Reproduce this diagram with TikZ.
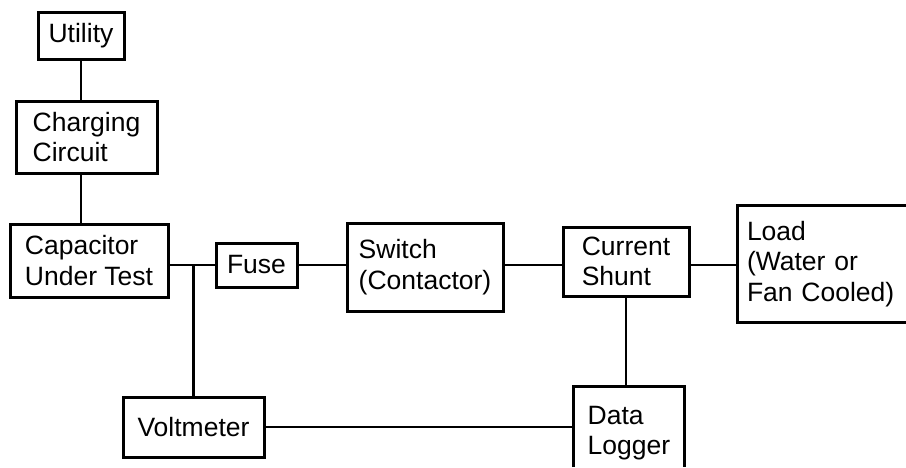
\documentclass[tikz,border=0pt]{standalone}
\usepackage{fontspec}
\setmainfont{Liberation Sans}
\usepackage{tikz}
\usetikzlibrary{positioning, calc}
\newcommand{\boxfont}{\fontsize{26.5}{30.5}\selectfont}

\begin{document}
\begin{tikzpicture}[
    x=1pt, y=-1pt,
    blk/.style={draw, line width=3pt, align=left, inner sep=0pt, font=\boxfont},
    wire/.style={line width=2.8pt}
]
    \useasboundingbox (0,0) rectangle (906,467);
    \coordinate (edge) at (906,0);

    % Supply chain
    \node[blk, minimum width=86pt, minimum height=47pt] (util) at (81,35.5) {Utility};
    \node[blk, minimum width=141pt, minimum height=72pt] (charge) at (86.5,137) {Charging\\Circuit};
    \node[blk, minimum width=158pt, minimum height=73pt] (cap) at (89,260.5) {Capacitor\\Under Test};

    % Main current path
    \node[blk, minimum width=81pt, minimum height=44pt] (fuse) at (256.5,265) {Fuse};
    \node[blk, minimum width=156pt, minimum height=88pt] (switch) at (425,267) {Switch\\(Contactor)};
    \node[blk, minimum width=126pt, minimum height=69pt] (shunt) at (626,261.5) {Current\\Shunt};
    \node[blk, draw=none, text width=151pt, inner xsep=8pt, minimum height=114pt] (load) at (822.5,264) {Load\\(Water or\\Fan Cooled)};
    \draw[line width=3pt] (load.north west -| edge) -- (load.north west) -- (load.south west) -- (load.south west -| edge);

    % Measurement
    \node[blk, minimum width=141pt, minimum height=60pt] (volt) at (193.5,427) {Voltmeter};
    \node[blk, draw=none, minimum width=108pt, minimum height=90pt] (logger) at (629,433) {Data\\Logger};
    \draw[line width=3pt] (logger.south west |- 0,467) -- (logger.north west) -- (logger.north east) -- (logger.south east |- 0,467);

    % Wires
    \draw[wire] (util.south) -- (util.south |- charge.north);
    \draw[wire] (charge.south -| util.south) -- (cap.north -| util.south);
    \draw[wire] (fuse.west -| cap.east) -- (fuse.west);
    \draw[wire] (volt.north) -- (volt.north |- fuse.west);
    \draw[wire] (fuse.east) -- (fuse.east -| switch.west);
    \draw[wire] (fuse -| switch.east) -- (fuse -| shunt.west);
    \draw[wire] (fuse -| shunt.east) -- (fuse -| load.west);
    \draw[wire] (shunt.south) -- (shunt.south |- logger.north);
    \draw[wire] (volt.east) -- (volt.east -| logger.west);

\end{tikzpicture}
\end{document}
